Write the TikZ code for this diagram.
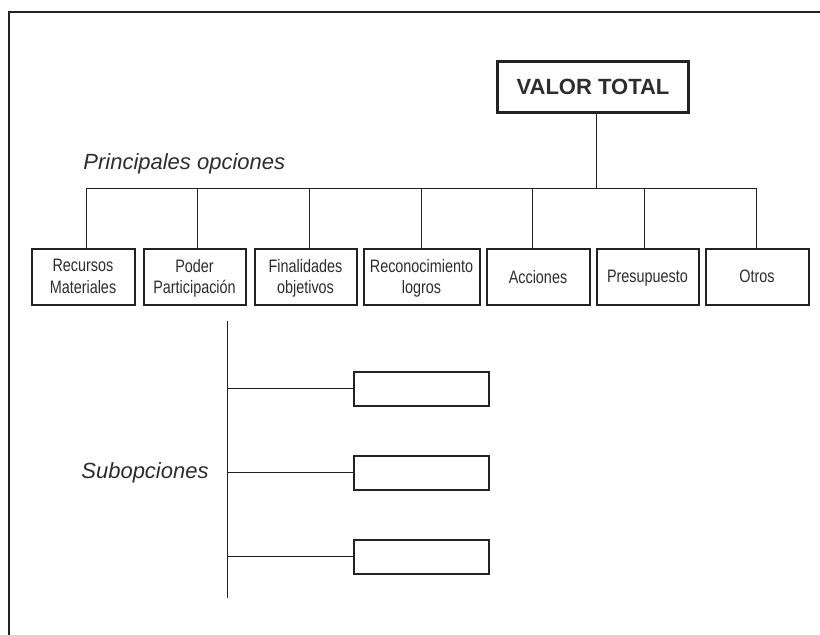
\documentclass[tikz,border=0pt]{standalone}
\usepackage{fontspec}
\setmainfont{Liberation Sans}
\newfontfamily\narrowfont{Liberation Sans}[FakeStretch=0.8]
\usepackage{xcolor}
\definecolor{ColLine}{RGB}{34,34,34}
\definecolor{ColText}{RGB}{45,45,45}
\tikzstyle{Frame}=[ColLine,line width=1.25pt]
\tikzstyle{NodeTotal}=[draw=ColLine,line width=1.15pt,minimum width=95.5pt,minimum height=25.5pt,
inner sep=0pt,text=ColText,font=\fontsize{11}{13}\selectfont\bfseries]
\tikzstyle{NodeOption}=[draw=ColLine,line width=1pt,minimum height=28pt,inner sep=0pt,
align=center,text depth=0pt,text=ColText,font=\narrowfont\fontsize{9}{10.85}\selectfont]
\tikzstyle{NodeSub}=[draw=ColLine,line width=1pt,minimum width=67.5pt,minimum height=17pt,inner sep=0pt]
\tikzstyle{LabelGroup}=[inner sep=0pt,text=ColText,font=\fontsize{11}{13}\selectfont\itshape]
\tikzstyle{EdgeTree}=[ColLine,line width=0.5pt]

\begin{document}
\begin{tikzpicture}[x=0.5pt,y=-0.5pt]
        \useasboundingbox(0,0)rectangle(820,634);
        \draw[Frame](9,640)--(9,12)--(830,12);
        \node[NodeTotal](t)at(593,87){VALOR TOTAL};
        \node[LabelGroup,anchor=base west](p)at(83,169){Principales opciones};
        \node[NodeOption,minimum width=51.5pt](o1)at(83,276.5){Recursos\\Materiales};
        \node[NodeOption,minimum width=51pt](o2)at(194.5,276.5){Poder\\Participación};
        \node[NodeOption,minimum width=51pt](o3)at(305.5,276.5){Finalidades\\objetivos};
        \node[NodeOption,minimum width=58pt](o4)at(421.5,276.5){Reconocimiento\\logros};
        \node[NodeOption,minimum width=51.5pt](o5)at(538,276.5){Acciones};
        \node[NodeOption,minimum width=51pt](o6)at(647.5,276.5){Presupuesto};
        \node[NodeOption,minimum width=51.5pt](o7)at(757,276.5){Otros};
        \coordinate(v)at(596,188);
        \coordinate(b1)at(86,188);
        \coordinate(b2)at(197.7,188);
        \coordinate(b3)at(309.3,188);
        \coordinate(b4)at(421,188);
        \coordinate(b5)at(532.7,188);
        \coordinate(b6)at(644.3,188);
        \coordinate(b7)at(756,188);
        \draw[EdgeTree](v)--(v|-t.south);
        \draw[EdgeTree](b1)--(b7);
        \draw[EdgeTree](b1)--(b1|-o1.north);
        \draw[EdgeTree](b2)--(b2|-o2.north);
        \draw[EdgeTree](b3)--(b3|-o3.north);
        \draw[EdgeTree](b4)--(b4|-o4.north);
        \draw[EdgeTree](b5)--(b5|-o5.north);
        \draw[EdgeTree](b6)--(b6|-o6.north);
        \draw[EdgeTree](b7)--(b7|-o7.north);
        \node[LabelGroup,anchor=base east](q)at(209,478){Subopciones};
        \coordinate(s)at(227,321);
        \coordinate(e)at(227,598);
        \node[NodeSub](u1)at(421,388.5){};
        \node[NodeSub](u2)at(421,472.5){};
        \node[NodeSub](u3)at(421,556.5){};
        \draw[EdgeTree](s)--(e);
        \draw[EdgeTree](u1.west-|s)--(u1.west);
        \draw[EdgeTree](u2.west-|s)--(u2.west);
        \draw[EdgeTree](u3.west-|s)--(u3.west);
    \end{tikzpicture}
\end{document}
